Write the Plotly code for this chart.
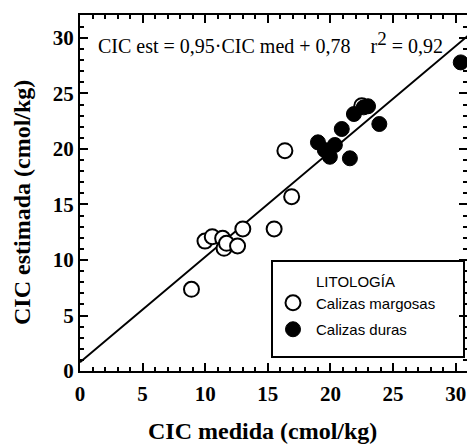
import plotly.graph_objects as go

# Calizas margosas (open circles)
marg_x = [22.5, 8.9, 9.98, 10.56, 11.39, 11.5, 11.7, 12.58, 13.0, 15.5, 16.36, 16.9]
marg_y = [23.9, 7.36, 11.7, 12.1, 11.95, 11.05, 11.5, 11.26, 12.8, 12.8, 19.85, 15.7]
# Calizas duras (filled circles)
dura_x = [19.0, 19.55, 19.95, 20.35, 20.9, 21.55, 21.87, 22.65, 23.0, 23.9, 30.4]
dura_y = [20.6, 19.9, 19.3, 20.36, 21.8, 19.16, 23.15, 23.75, 23.85, 22.25, 27.8]

slope = 0.95
intercept = 0.78
line_x = [0, 31]
line_y = [slope * v + intercept for v in line_x]

x_ticks = [0, 5, 10, 15, 20, 25, 30]
y_ticks = [0, 5, 10, 15, 20, 25, 30]

W, H = 467, 446
ml, mr, mt, mb = 80, 0, 15, 75

serif = "Liberation Serif"
sans = "Liberation Sans"

fig = go.Figure()
fig.add_trace(go.Scatter(x=line_x, y=line_y, mode="lines",
                         line=dict(color="black", width=2), showlegend=False, hoverinfo="skip"))
fig.add_trace(go.Scatter(x=marg_x, y=marg_y, mode="markers", name="Calizas margosas",
                         legendgroup="a",
                         marker=dict(size=15, color="white", line=dict(color="black", width=2))))
fig.add_trace(go.Scatter(x=dura_x, y=dura_y, mode="markers", name="Calizas duras",
                         legendgroup="b",
                         marker=dict(size=15, color="black", line=dict(color="black", width=1))))

axis_common = dict(
    showline=True, linecolor="black", linewidth=2, mirror="ticks",
    ticks="inside", ticklen=8, tickwidth=2, tickcolor="black",
    showgrid=False, zeroline=False,
    tickfont=dict(family=serif, size=21, color="black"),
    minor=dict(ticks="inside", ticklen=4, tickwidth=1.5, tickcolor="black", dtick=1),
)

fig.update_xaxes(range=[0, 30.9], tickvals=x_ticks, ticktext=["<b>%d</b>" % v for v in x_ticks],
                 ticklabelstandoff=3, **axis_common)
fig.update_yaxes(range=[0, 32.07], tickvals=y_ticks, ticktext=["<b>%d</b>" % v for v in y_ticks],
                 **axis_common)

pw = W - ml - mr
ph = H - mt - mb
def px2x(p):
    return (p - ml) / pw
def py2y(p):
    return (H - mb - p) / ph

title_font = dict(family=serif, size=24, color="black")
fig.add_annotation(x=px2x(262), y=py2y(431), xref="paper", yref="paper", xanchor="center", yanchor="middle",
                   text="<b>CIC medida (cmol/kg)</b>", showarrow=False, font=title_font)
fig.add_annotation(x=px2x(22), y=py2y(203), xref="paper", yref="paper", xanchor="center", yanchor="middle",
                   text="<b>CIC estimada (cmol/kg)</b>", showarrow=False, textangle=-90, font=title_font)

fig.add_annotation(x=px2x(96), y=py2y(42), xref="paper", yref="paper", xanchor="left", yanchor="middle",
                   text="CIC est = 0,95·CIC med + 0,78    r<sup><span style='font-size:19px'>2</span></sup> = 0,92",
                   showarrow=False, font=dict(family=serif, size=20, color="black"))

fig.add_shape(type="rect", xref="paper", yref="paper",
              x0=px2x(272), x1=px2x(464), y0=py2y(357), y1=py2y(261),
              line=dict(color="black", width=2), fillcolor="white", layer="below")

fig.update_layout(
    width=W, height=H, margin=dict(l=ml, r=mr, t=mt, b=mb, autoexpand=False),
    plot_bgcolor="white", paper_bgcolor="white",
    legend=dict(x=px2x(270), y=py2y(267), xanchor="left", yanchor="top",
                bgcolor="rgba(0,0,0,0)", borderwidth=0, itemwidth=36,
                title=dict(text="LITOLOGÍA", side="top center",
                           font=dict(family=sans, size=15, color="black")),
                font=dict(family=sans, size=15, color="black"),
                tracegroupgap=4, traceorder="grouped"),
    font=dict(family=serif, color="black"),
)

fig.write_html("out.html", config={"displayModeBar": False},
               post_script="document.body.style.margin='0px';")
